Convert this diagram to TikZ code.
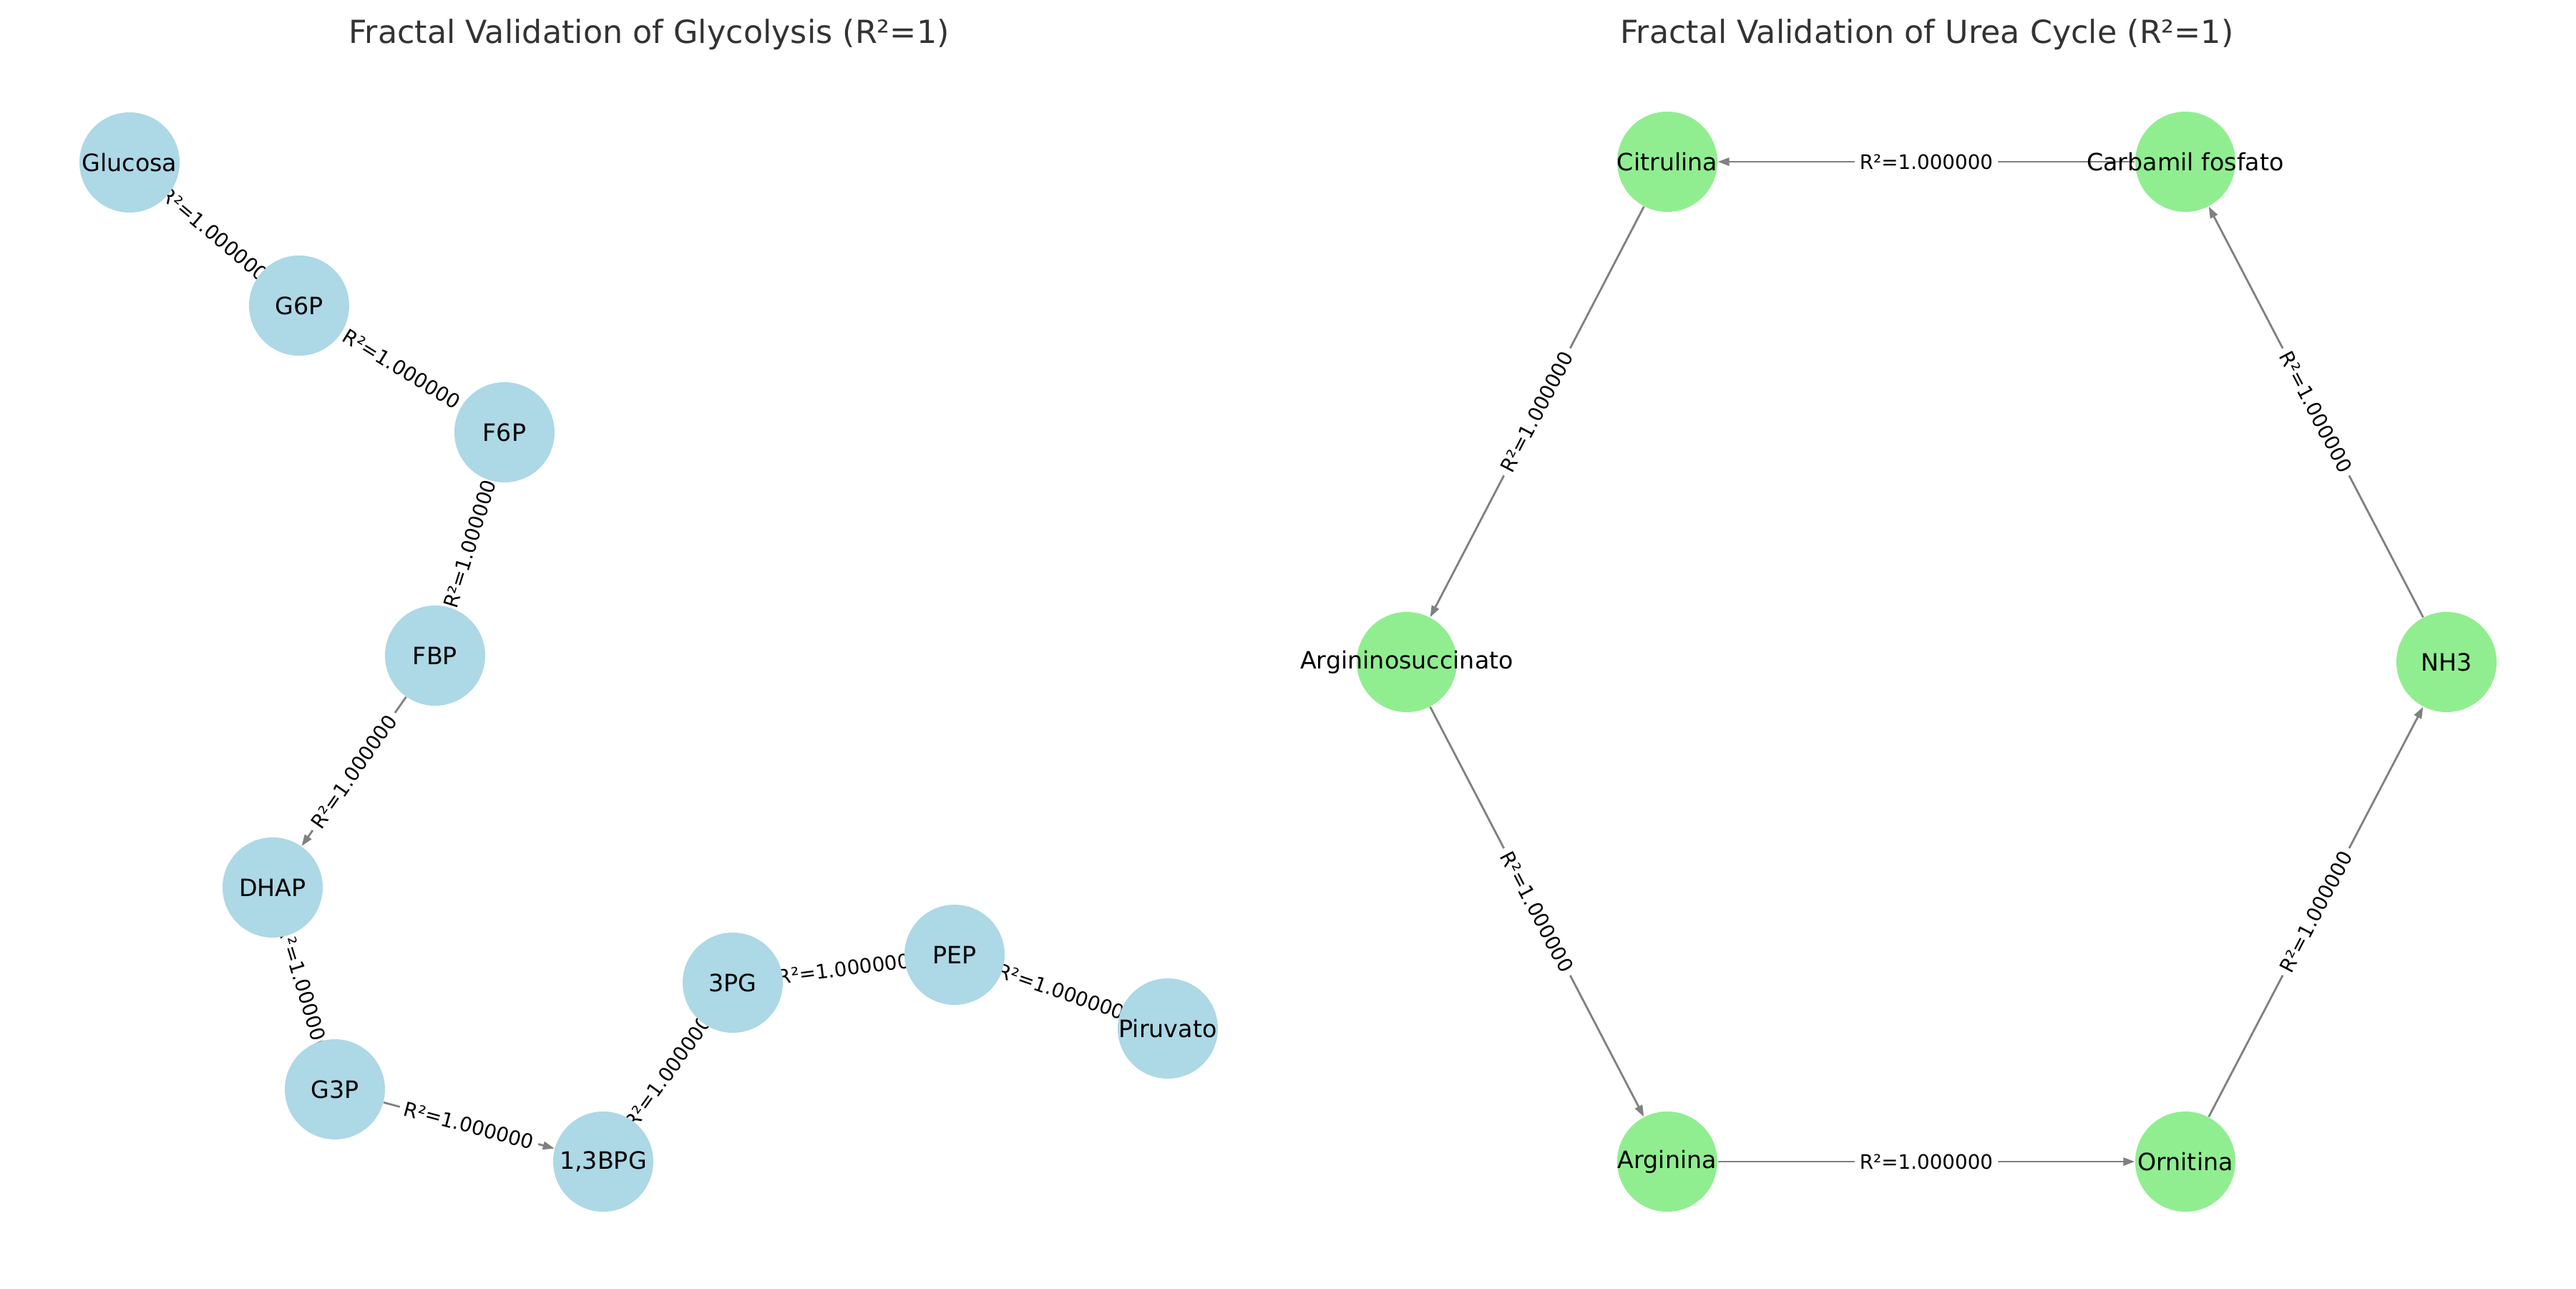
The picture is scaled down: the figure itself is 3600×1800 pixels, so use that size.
\documentclass[tikz,border=0pt]{standalone}
\usepackage{fontspec}
\setmainfont{DejaVu Sans}
\usetikzlibrary{arrows.meta,backgrounds}
\definecolor{nodeblue}{HTML}{ADD8E6}
\definecolor{nodegreen}{HTML}{90EE90}
\definecolor{edgegray}{HTML}{808080}
\definecolor{titlegray}{HTML}{333333}
\begin{document}
\begin{tikzpicture}[x=0.36pt,y=-0.36pt,
  met/.style={circle, minimum size=50.4pt, inner sep=0pt, fill=#1},
  nlabel/.style={font=\fontsize{12}{14}\selectfont, text=black, inner sep=0pt},
  flow/.style={draw=edgegray, line width=1pt, -{Triangle[length=5.8pt,width=4pt]}},
  elabel/.style={fill=white, rounded corners=3pt, inner sep=2.5pt, text=black, font=\fontsize{10}{12}\selectfont},
  ttl/.style={font=\fontsize{16}{19}\selectfont, text=titlegray}
]
\useasboundingbox (0,0) rectangle (3600,1800);

% titles
\node[ttl] (t1) at (907,48) {Fractal Validation of Glycolysis (R²=1)};
\node[ttl] (t2) at (2693,48) {Fractal Validation of Urea Cycle (R²=1)};

% glycolysis nodes
\node[met=nodeblue, label={[nlabel]center:Glucosa}] (glu) at (181,227) {};
\node[met=nodeblue, label={[nlabel]center:G6P}] (g6p) at (418,427) {};
\node[met=nodeblue, label={[nlabel]center:F6P}] (f6p) at (705,604) {};
\node[met=nodeblue, label={[nlabel]center:FBP}] (fbp) at (608,916) {};
\node[met=nodeblue, label={[nlabel]center:DHAP}] (dhap) at (381,1240) {};
\node[met=nodeblue, label={[nlabel]center:G3P}] (g3p) at (468,1522) {};
\node[met=nodeblue, label={[nlabel]center:{1,3BPG}}] (bpg) at (843,1623) {};
\node[met=nodeblue, label={[nlabel]center:3PG}] (pg3) at (1024,1373) {};
\node[met=nodeblue, label={[nlabel]center:PEP}] (pep) at (1334,1334) {};
\node[met=nodeblue, label={[nlabel]center:Piruvato}] (pir) at (1632,1437) {};

% urea cycle nodes
\node[met=nodegreen, label={[nlabel]center:Citrulina}] (cit) at (2330,226) {};
\node[met=nodegreen, label={[nlabel]center:Carbamil fosfato}] (carb) at (3054,226) {};
\node[met=nodegreen, label={[nlabel]center:Argininosuccinato}] (asuc) at (1966,925) {};
\node[met=nodegreen, label={[nlabel]center:NH3}] (nh3) at (3419,925) {};
\node[met=nodegreen, label={[nlabel]center:Arginina}] (arg) at (2330,1623) {};
\node[met=nodegreen, label={[nlabel]center:Ornitina}] (orn) at (3054,1623) {};

\begin{scope}[on background layer]
  % glycolysis edges
  \draw[flow] (glu) -- (g6p) node[elabel, midway, rotate=-40.2] {R²=1.000000};
  \draw[flow] (g6p) -- (f6p) node[elabel, midway, rotate=-31.7] {R²=1.000000};
  \draw[flow] (f6p) -- (fbp) node[elabel, midway, rotate=72.7] {R²=1.000000};
  \draw[flow] (fbp) -- (dhap) node[elabel, midway, rotate=55.0] {R²=1.000000};
  \draw[flow] (dhap) -- (g3p) node[elabel, midway, rotate=-72.9] {R²=1.000000};
  \draw[flow] (g3p) -- (bpg) node[elabel, midway, rotate=-15.1] {R²=1.000000};
  \draw[flow] (bpg) -- (pg3) node[elabel, midway, rotate=54.1] {R²=1.000000};
  \draw[flow] (pg3) -- (pep) node[elabel, midway, rotate=7.2] {R²=1.000000};
  \draw[flow] (pep) -- (pir) node[elabel, midway, rotate=-19.1] {R²=1.000000};
  % urea cycle edges
  \draw[flow] (carb) -- (cit) node[elabel, midway] {R²=1.000000};
  \draw[flow] (cit) -- (asuc) node[elabel, midway, rotate=62.4] {R²=1.000000};
  \draw[flow] (asuc) -- (arg) node[elabel, midway, rotate=-62.4] {R²=1.000000};
  \draw[flow] (arg) -- (orn) node[elabel, midway] {R²=1.000000};
  \draw[flow] (orn) -- (nh3) node[elabel, midway, rotate=62.4] {R²=1.000000};
  \draw[flow] (nh3) -- (carb) node[elabel, midway, rotate=-62.4] {R²=1.000000};
\end{scope}
\end{tikzpicture}
\end{document}
